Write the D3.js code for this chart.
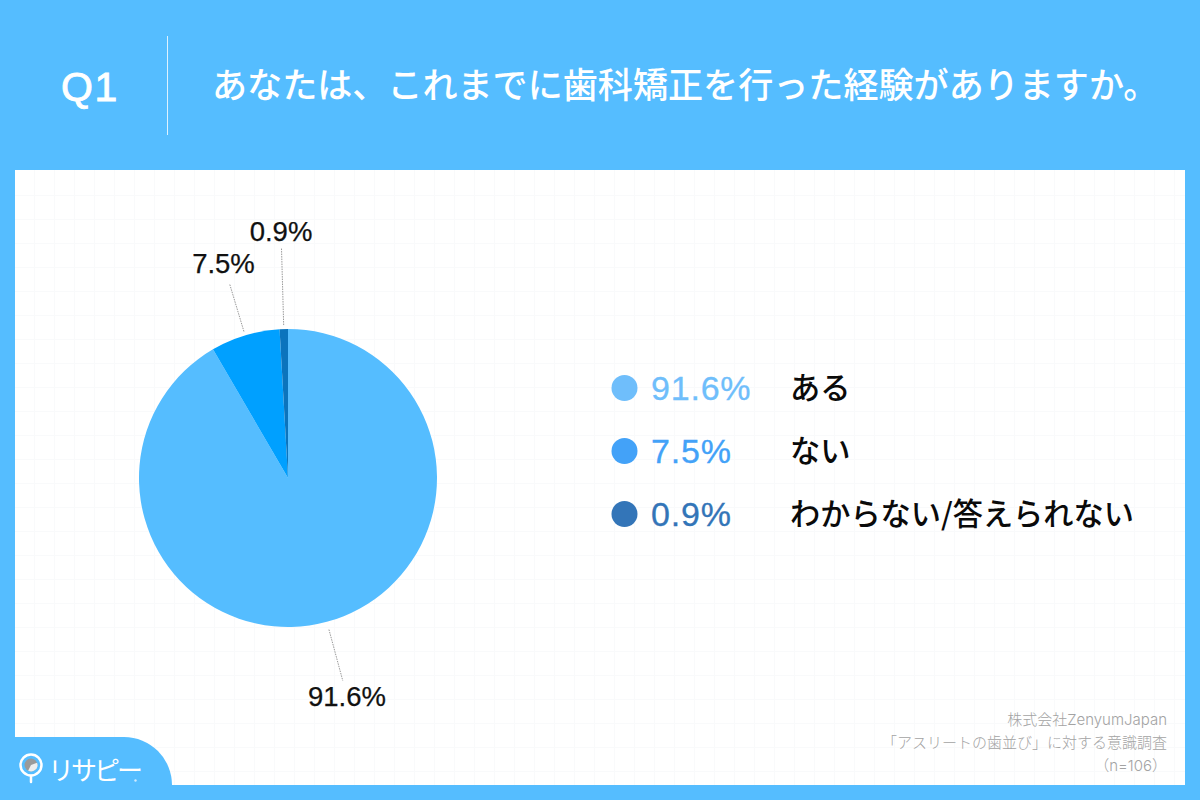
<!DOCTYPE html>
<html>
<head>
<meta charset="utf-8">
<script src="https://cdn.jsdelivr.net/npm/d3@7"></script>
<style>
html, body { margin: 0; padding: 0; background: #fff; }
svg { display: block; }
text { font-family: "Liberation Sans", "Noto Sans CJK JP", sans-serif; }
</style>
</head>
<body>
<script>
// values
var categories = ["ある", "ない", "わからない/答えられない"];
var shares = [91.6, 7.5, 0.9];
var sliceColors = ["#55bdff", "#00a0ff", "#0b74bd"];
var legendColors = ["#6fbefb", "#43a2f8", "#3375b8"];
var footerLines = ["株式会社ZenyumJapan", "「アスリートの歯並び」に対する意識調査", "（n=106）"];
var question = "あなたは、これまでに歯科矯正を行った経験がありますか。";

var bg = "#55bdff";
var svg = d3.select("body").append("svg").attr("width", 1200).attr("height", 800);

// background and white panel
svg.append("rect").attr("width", 1200).attr("height", 800).attr("fill", bg);
svg.append("rect").attr("x", 15).attr("y", 170).attr("width", 1170).attr("height", 615).attr("fill", "#fff");

// faint grid on the panel
var grid = svg.append("g").attr("stroke", "#f9fafb").attr("stroke-width", 1);
grid.selectAll("line.v").data(d3.range(34, 1185, 20)).enter().append("line")
    .attr("class", "v").attr("x1", function(d) { return d + .5; }).attr("x2", function(d) { return d + .5; })
    .attr("y1", 170).attr("y2", 785);
grid.selectAll("line.h").data(d3.range(195, 785, 24)).enter().append("line")
    .attr("class", "h").attr("y1", function(d) { return d + .5; }).attr("y2", function(d) { return d + .5; })
    .attr("x1", 15).attr("x2", 1185);

// header
svg.append("text").attr("x", 61).attr("y", 101).attr("fill", "#fff").attr("stroke", "#fff").attr("stroke-width", .9)
    .attr("font-size", 41).attr("letter-spacing", 1.5).text("Q1");
svg.append("line").attr("x1", 167.5).attr("x2", 167.5).attr("y1", 36).attr("y2", 135)
    .attr("stroke", "#fff").attr("stroke-opacity", .8);
svg.append("text").attr("x", 212).attr("y", 98).attr("fill", "#fff")
    .attr("font-size", 35.1).attr("font-weight", 500)
    .attr("style", "font-family:'Noto Sans CJK JP',sans-serif").text(question);

// pie
var cx = 288, cy = 478, radius = 149;
var pie = d3.pie().sort(null).value(function(d) { return d; });
var arcs = pie(shares);
var arc = d3.arc().innerRadius(0).outerRadius(radius);
var g = svg.append("g").attr("transform", "translate(" + cx + "," + cy + ")");
g.selectAll("path").data(arcs).enter().append("path")
    .attr("d", arc)
    .attr("fill", function(d, i) { return sliceColors[i]; });

// leader lines and labels, out along the middle of each slice
var leaderStart = [157, 153, 153], leaderEnd = [210, 203, 230], labelAt = [226, 224, 247];
function polar(d, r) {
  var a = (d.startAngle + d.endAngle) / 2;
  return [Math.sin(a) * r, -Math.cos(a) * r];
}
g.selectAll("line.leader").data(arcs).enter().append("line")
    .attr("class", "leader")
    .attr("x1", function(d, i) { return polar(d, leaderStart[i])[0]; })
    .attr("y1", function(d, i) { return polar(d, leaderStart[i])[1]; })
    .attr("x2", function(d, i) { return polar(d, leaderEnd[i])[0]; })
    .attr("y2", function(d, i) { return polar(d, leaderEnd[i])[1]; })
    .attr("stroke", "#999").attr("stroke-width", 1).attr("stroke-dasharray", "1.5 1");
g.selectAll("text").data(arcs).enter().append("text")
    .attr("x", function(d, i) { return polar(d, labelAt[i])[0]; })
    .attr("y", function(d, i) { return polar(d, labelAt[i])[1]; })
    .attr("text-anchor", "middle").attr("dy", "0.35em")
    .attr("font-size", 27.5).attr("fill", "#111")
    .attr("stroke", "#111").attr("stroke-width", .25)
    .text(function(d) { return d.value + "%"; });

// legend
var rowY = d3.scalePoint().domain(categories).range([388, 514]);
var rows = svg.selectAll("g.row").data(categories).enter().append("g")
    .attr("class", "row")
    .attr("transform", function(d) { return "translate(0," + rowY(d) + ")"; });
rows.append("circle").attr("cx", 624.5).attr("r", 13)
    .attr("fill", function(d, i) { return legendColors[i]; });
rows.append("text").attr("x", 651).attr("dy", "0.34em").attr("font-size", 34)
    .attr("letter-spacing", .8)
    .attr("stroke", function(d, i) { return legendColors[i]; }).attr("stroke-width", .3)
    .attr("fill", function(d, i) { return legendColors[i]; })
    .text(function(d, i) { return shares[i] + "%"; });
rows.append("text").attr("x", 790).attr("dy", "0.36em").attr("font-size", 30.2)
    .attr("font-weight", 500).attr("fill", "#0a0a0a")
    .attr("style", "font-family:'Noto Sans CJK JP',sans-serif")
    .text(function(d) { return d; });

// survey note
svg.selectAll("text.note").data(footerLines).enter().append("text")
    .attr("class", "note")
    .attr("x", 1167).attr("y", function(d, i) { return 725 + i * 23; })
    .attr("text-anchor", "end").attr("font-size", 15).attr("font-weight", 300).attr("fill", "#a3a3a3")
    .attr("style", "font-family:Inter,'Noto Sans CJK JP',sans-serif")
    .text(function(d) { return d; });

// logo tab, bottom left
svg.append("path")
    .attr("d", "M15,737H124A48,48 0 0 1 172,785V800H0V737Z")
    .attr("fill", bg);
var logo = svg.append("g").attr("transform", "translate(31,765)");
logo.append("circle").attr("r", 10.5).attr("fill", "none").attr("stroke", "#fff").attr("stroke-width", 2.5);
logo.append("circle").attr("r", 6.5).attr("fill", "#9a9a9a");
logo.append("path").attr("d", d3.arc().innerRadius(0).outerRadius(6.5).startAngle(1.2).endAngle(3.6)()).attr("fill", "#eee");
logo.append("line").attr("y1", 11).attr("y2", 17).attr("stroke", "#fff").attr("stroke-width", 2.5).attr("stroke-linecap", "round");
svg.append("text").attr("x", 48).attr("y", 780).attr("fill", "#fff")
    .attr("font-size", 26).attr("font-weight", 400).attr("letter-spacing", -3)
    .attr("style", "font-family:'Noto Sans CJK JP',sans-serif").text("リサピー");
svg.append("circle").attr("cx", 135.5).attr("cy", 780.5).attr("r", 1.2).attr("fill", "#cfeaff");
</script>
</body>
</html>
